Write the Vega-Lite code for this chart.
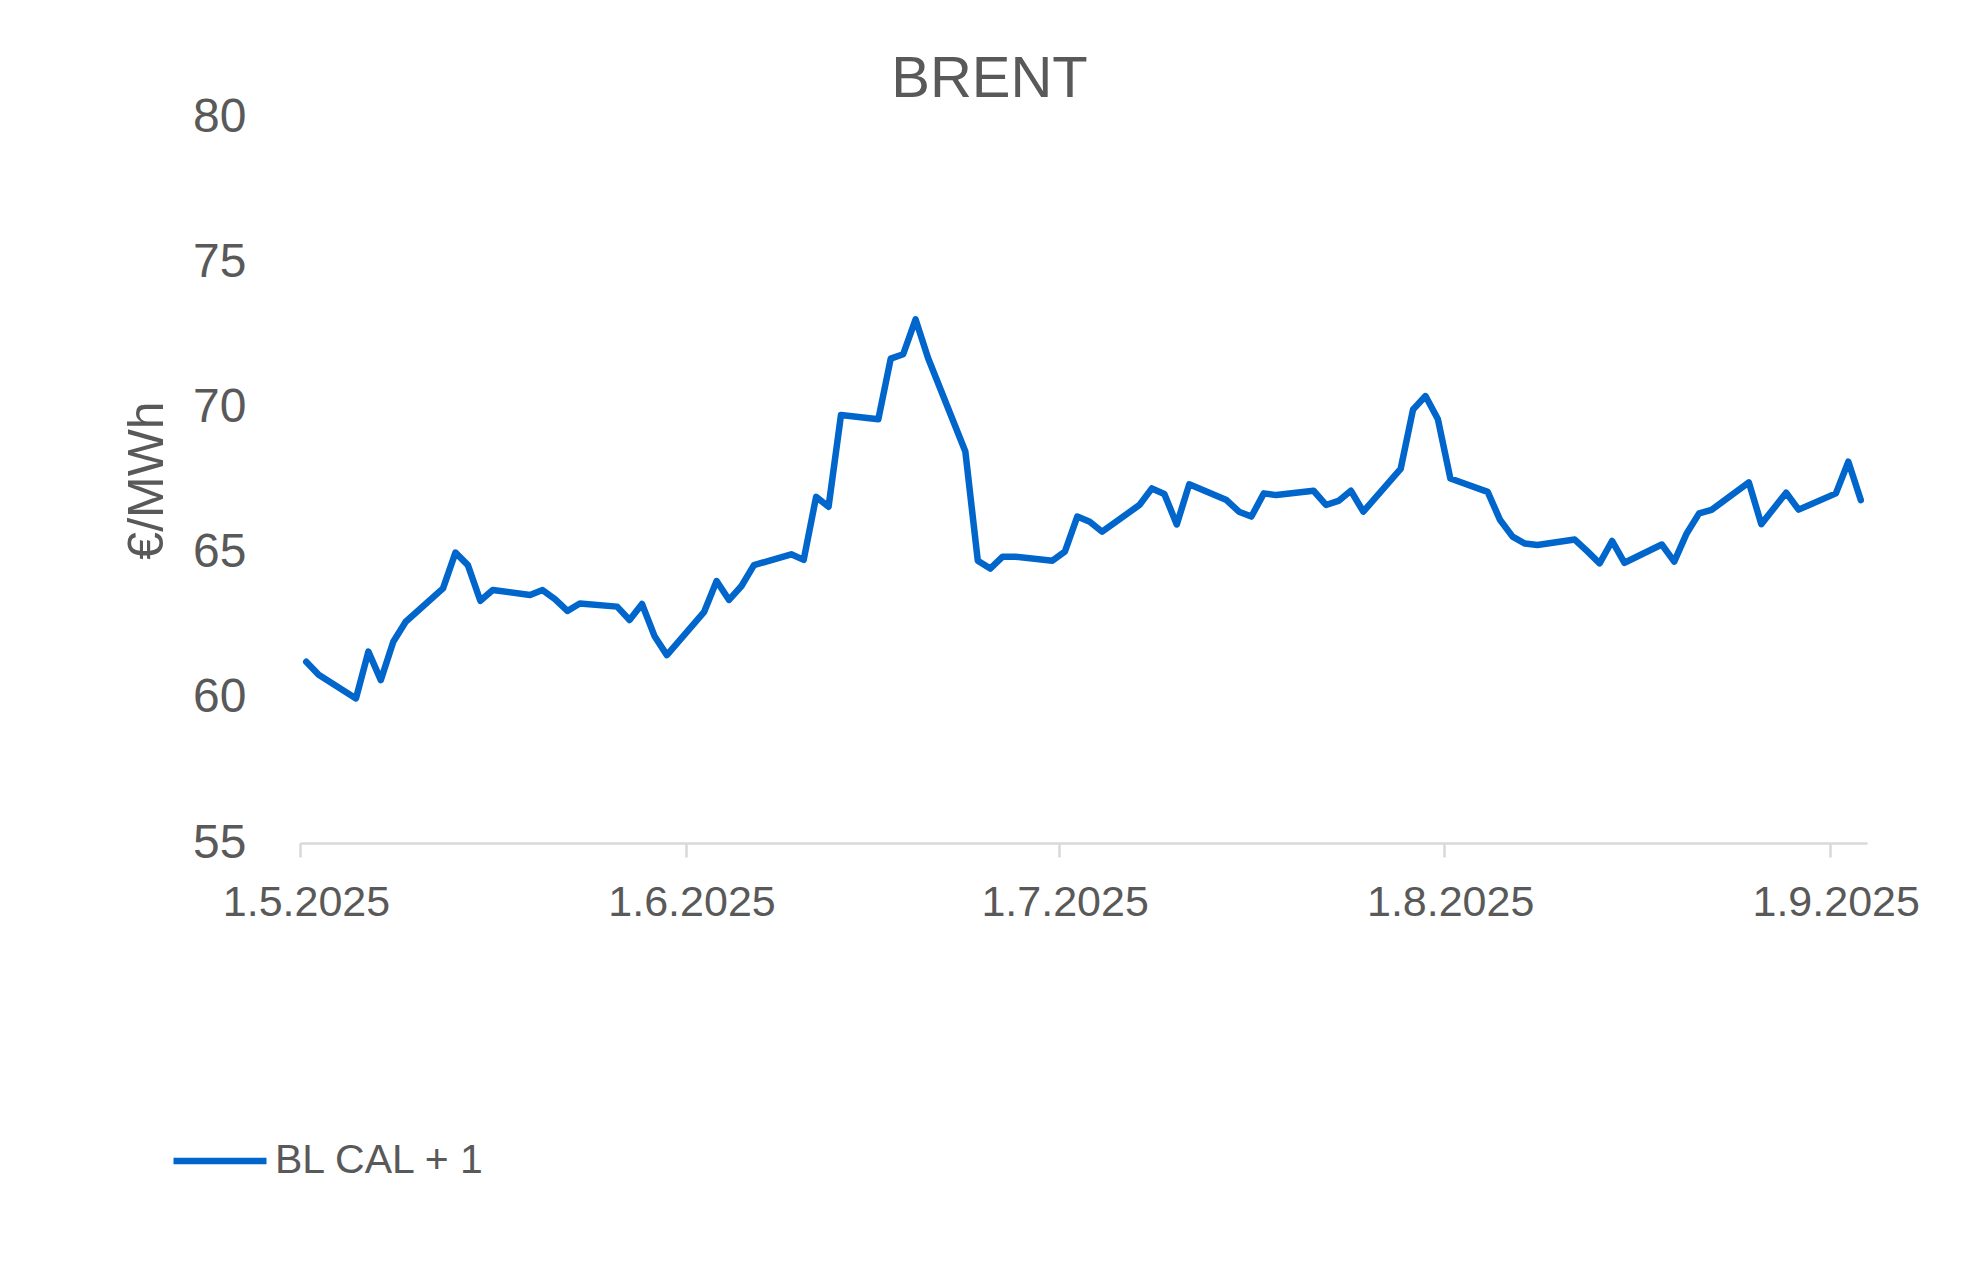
{
  "$schema": "https://vega.github.io/schema/vega-lite/v6.json",
  "autosize": {"type": "none"},
  "padding": {"left": 300, "top": 117, "right": 113, "bottom": 421},
  "width": 1567,
  "height": 726,
  "background": "white",
  "config": {
    "font": "Liberation Sans",
    "view": {"stroke": null}
  },
  "title": {
    "text": "BRENT",
    "fontSize": 58,
    "fontWeight": "normal",
    "color": "#595959",
    "anchor": "middle",
    "dx": -94,
    "dy": 62,
    "baseline": "alphabetic",
    "offset": 0
  },
  "data": {
    "values": [
      {"date": "2025-05-01T12:00", "value": 61.24, "series": "BL CAL + 1"},
      {"date": "2025-05-02T12:00", "value": 60.79, "series": "BL CAL + 1"},
      {"date": "2025-05-05T12:00", "value": 59.98, "series": "BL CAL + 1"},
      {"date": "2025-05-06T12:00", "value": 61.59, "series": "BL CAL + 1"},
      {"date": "2025-05-07T12:00", "value": 60.61, "series": "BL CAL + 1"},
      {"date": "2025-05-08T12:00", "value": 61.93, "series": "BL CAL + 1"},
      {"date": "2025-05-09T12:00", "value": 62.62, "series": "BL CAL + 1"},
      {"date": "2025-05-12T12:00", "value": 63.77, "series": "BL CAL + 1"},
      {"date": "2025-05-13T12:00", "value": 65.0, "series": "BL CAL + 1"},
      {"date": "2025-05-14T12:00", "value": 64.57, "series": "BL CAL + 1"},
      {"date": "2025-05-15T12:00", "value": 63.34, "series": "BL CAL + 1"},
      {"date": "2025-05-16T12:00", "value": 63.71, "series": "BL CAL + 1"},
      {"date": "2025-05-19T12:00", "value": 63.54, "series": "BL CAL + 1"},
      {"date": "2025-05-20T12:00", "value": 63.71, "series": "BL CAL + 1"},
      {"date": "2025-05-21T12:00", "value": 63.4, "series": "BL CAL + 1"},
      {"date": "2025-05-22T12:00", "value": 62.99, "series": "BL CAL + 1"},
      {"date": "2025-05-23T12:00", "value": 63.25, "series": "BL CAL + 1"},
      {"date": "2025-05-26T12:00", "value": 63.14, "series": "BL CAL + 1"},
      {"date": "2025-05-27T12:00", "value": 62.68, "series": "BL CAL + 1"},
      {"date": "2025-05-28T12:00", "value": 63.23, "series": "BL CAL + 1"},
      {"date": "2025-05-29T12:00", "value": 62.13, "series": "BL CAL + 1"},
      {"date": "2025-05-30T12:00", "value": 61.47, "series": "BL CAL + 1"},
      {"date": "2025-06-02T12:00", "value": 62.96, "series": "BL CAL + 1"},
      {"date": "2025-06-03T12:00", "value": 64.02, "series": "BL CAL + 1"},
      {"date": "2025-06-04T12:00", "value": 63.37, "series": "BL CAL + 1"},
      {"date": "2025-06-05T12:00", "value": 63.85, "series": "BL CAL + 1"},
      {"date": "2025-06-06T12:00", "value": 64.57, "series": "BL CAL + 1"},
      {"date": "2025-06-09T12:00", "value": 64.94, "series": "BL CAL + 1"},
      {"date": "2025-06-10T12:00", "value": 64.75, "series": "BL CAL + 1"},
      {"date": "2025-06-11T12:00", "value": 66.92, "series": "BL CAL + 1"},
      {"date": "2025-06-12T12:00", "value": 66.58, "series": "BL CAL + 1"},
      {"date": "2025-06-13T12:00", "value": 69.74, "series": "BL CAL + 1"},
      {"date": "2025-06-16T12:00", "value": 69.59, "series": "BL CAL + 1"},
      {"date": "2025-06-17T12:00", "value": 71.68, "series": "BL CAL + 1"},
      {"date": "2025-06-18T12:00", "value": 71.83, "series": "BL CAL + 1"},
      {"date": "2025-06-19T12:00", "value": 73.03, "series": "BL CAL + 1"},
      {"date": "2025-06-20T12:00", "value": 71.7, "series": "BL CAL + 1"},
      {"date": "2025-06-23T12:00", "value": 68.48, "series": "BL CAL + 1"},
      {"date": "2025-06-24T12:00", "value": 64.72, "series": "BL CAL + 1"},
      {"date": "2025-06-25T12:00", "value": 64.45, "series": "BL CAL + 1"},
      {"date": "2025-06-26T12:00", "value": 64.86, "series": "BL CAL + 1"},
      {"date": "2025-06-27T12:00", "value": 64.86, "series": "BL CAL + 1"},
      {"date": "2025-06-30T12:00", "value": 64.72, "series": "BL CAL + 1"},
      {"date": "2025-07-01T12:00", "value": 65.03, "series": "BL CAL + 1"},
      {"date": "2025-07-02T12:00", "value": 66.24, "series": "BL CAL + 1"},
      {"date": "2025-07-03T12:00", "value": 66.06, "series": "BL CAL + 1"},
      {"date": "2025-07-04T12:00", "value": 65.72, "series": "BL CAL + 1"},
      {"date": "2025-07-07T12:00", "value": 66.64, "series": "BL CAL + 1"},
      {"date": "2025-07-08T12:00", "value": 67.21, "series": "BL CAL + 1"},
      {"date": "2025-07-09T12:00", "value": 67.02, "series": "BL CAL + 1"},
      {"date": "2025-07-10T12:00", "value": 65.97, "series": "BL CAL + 1"},
      {"date": "2025-07-11T12:00", "value": 67.35, "series": "BL CAL + 1"},
      {"date": "2025-07-14T12:00", "value": 66.81, "series": "BL CAL + 1"},
      {"date": "2025-07-15T12:00", "value": 66.41, "series": "BL CAL + 1"},
      {"date": "2025-07-16T12:00", "value": 66.24, "series": "BL CAL + 1"},
      {"date": "2025-07-17T12:00", "value": 67.04, "series": "BL CAL + 1"},
      {"date": "2025-07-18T12:00", "value": 66.98, "series": "BL CAL + 1"},
      {"date": "2025-07-21T12:00", "value": 67.13, "series": "BL CAL + 1"},
      {"date": "2025-07-22T12:00", "value": 66.64, "series": "BL CAL + 1"},
      {"date": "2025-07-23T12:00", "value": 66.78, "series": "BL CAL + 1"},
      {"date": "2025-07-24T12:00", "value": 67.13, "series": "BL CAL + 1"},
      {"date": "2025-07-25T12:00", "value": 66.41, "series": "BL CAL + 1"},
      {"date": "2025-07-28T12:00", "value": 67.88, "series": "BL CAL + 1"},
      {"date": "2025-07-29T12:00", "value": 69.93, "series": "BL CAL + 1"},
      {"date": "2025-07-30T12:00", "value": 70.39, "series": "BL CAL + 1"},
      {"date": "2025-07-31T12:00", "value": 69.59, "series": "BL CAL + 1"},
      {"date": "2025-08-01T12:00", "value": 67.55, "series": "BL CAL + 1"},
      {"date": "2025-08-04T12:00", "value": 67.09, "series": "BL CAL + 1"},
      {"date": "2025-08-05T12:00", "value": 66.12, "series": "BL CAL + 1"},
      {"date": "2025-08-06T12:00", "value": 65.55, "series": "BL CAL + 1"},
      {"date": "2025-08-07T12:00", "value": 65.31, "series": "BL CAL + 1"},
      {"date": "2025-08-08T12:00", "value": 65.26, "series": "BL CAL + 1"},
      {"date": "2025-08-11T12:00", "value": 65.45, "series": "BL CAL + 1"},
      {"date": "2025-08-12T12:00", "value": 65.05, "series": "BL CAL + 1"},
      {"date": "2025-08-13T12:00", "value": 64.63, "series": "BL CAL + 1"},
      {"date": "2025-08-14T12:00", "value": 65.4, "series": "BL CAL + 1"},
      {"date": "2025-08-15T12:00", "value": 64.65, "series": "BL CAL + 1"},
      {"date": "2025-08-18T12:00", "value": 65.28, "series": "BL CAL + 1"},
      {"date": "2025-08-19T12:00", "value": 64.69, "series": "BL CAL + 1"},
      {"date": "2025-08-20T12:00", "value": 65.66, "series": "BL CAL + 1"},
      {"date": "2025-08-21T12:00", "value": 66.35, "series": "BL CAL + 1"},
      {"date": "2025-08-22T12:00", "value": 66.47, "series": "BL CAL + 1"},
      {"date": "2025-08-25T12:00", "value": 67.42, "series": "BL CAL + 1"},
      {"date": "2025-08-26T12:00", "value": 65.98, "series": "BL CAL + 1"},
      {"date": "2025-08-28T12:00", "value": 67.06, "series": "BL CAL + 1"},
      {"date": "2025-08-29T12:00", "value": 66.48, "series": "BL CAL + 1"},
      {"date": "2025-09-01T12:00", "value": 67.04, "series": "BL CAL + 1"},
      {"date": "2025-09-02T12:00", "value": 68.13, "series": "BL CAL + 1"},
      {"date": "2025-09-03T12:00", "value": 66.81, "series": "BL CAL + 1"}
    ]
  },
  "mark": {"type": "line", "strokeWidth": 6.5, "strokeJoin": "round", "strokeCap": "round"},
  "encoding": {
    "x": {
      "field": "date",
      "type": "temporal",
      "scale": {"domain": [{"year": 2025, "month": 5, "date": 1}, {"year": 2025, "month": 9, "date": 4}]},
      "axis": {
        "title": null,
        "values": [
          {"year": 2025, "month": 5, "date": 1},
          {"year": 2025, "month": 6, "date": 1},
          {"year": 2025, "month": 7, "date": 1},
          {"year": 2025, "month": 8, "date": 1},
          {"year": 2025, "month": 9, "date": 1}
        ],
        "format": "%-d.%-m.%Y",
        "grid": false,
        "labelFontSize": 43,
        "labelColor": "#595959",
        "labelPadding": 24,
        "labelOffset": 6,
        "labelFlush": false,
        "labelOverlap": false,
        "domainColor": "#d9d9d9",
        "domainWidth": 2.5,
        "tickColor": "#d9d9d9",
        "tickWidth": 2.5,
        "tickSize": 14
      }
    },
    "y": {
      "field": "value",
      "type": "quantitative",
      "scale": {"domain": [55, 80], "nice": false, "zero": false},
      "axis": {
        "title": "€/MWh",
        "titleFontSize": 50,
        "titleFontWeight": "normal",
        "titleColor": "#595959",
        "titlePadding": 20,
        "values": [55, 60, 65, 70, 75, 80],
        "grid": false,
        "domain": false,
        "ticks": false,
        "tickSize": 0,
        "labelFontSize": 48,
        "labelColor": "#595959",
        "labelPadding": 54,
        "labelFlush": false
      }
    },
    "color": {
      "field": "series",
      "type": "nominal",
      "scale": {"range": ["#0066cc"]},
      "legend": {
        "title": null,
        "orient": "none",
        "legendX": -130,
        "legendY": 994,
        "padding": 0,
        "symbolType": "stroke",
        "symbolSize": 8649,
        "symbolStrokeWidth": 6.5,
        "labelFontSize": 41,
        "labelLimit": 0,
        "labelColor": "#595959",
        "labelOffset": 5
      }
    }
  }
}
